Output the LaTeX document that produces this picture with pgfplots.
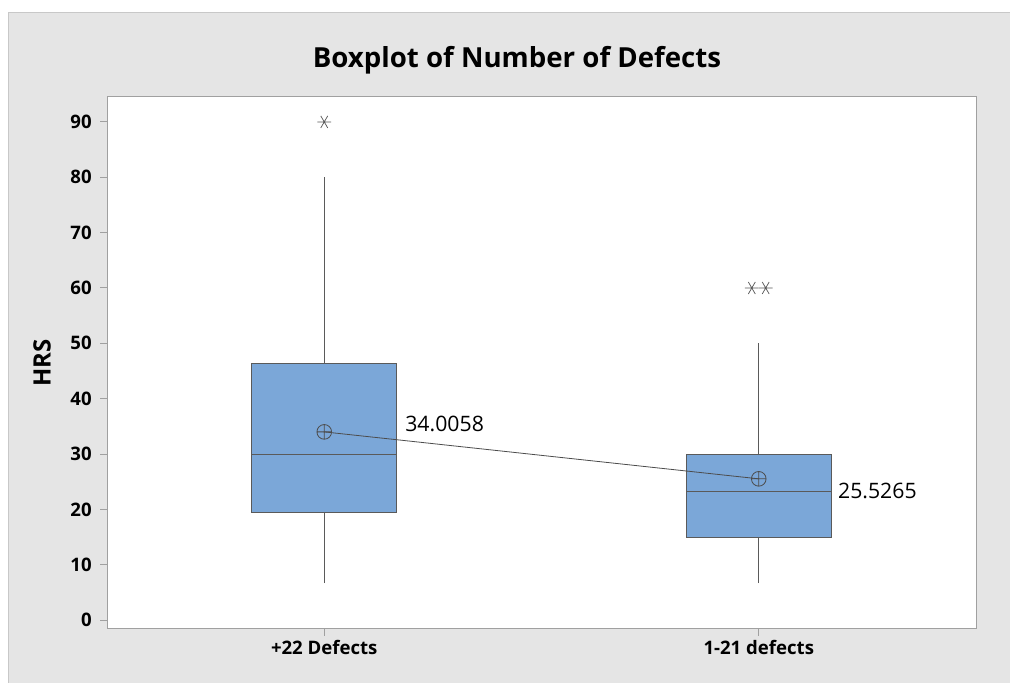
\documentclass[border=0pt]{standalone}
\usepackage{fontspec}
\setmainfont{Open Sans}
\usepackage{pgfplots}
\pgfplotsset{compat=1.18}

\definecolor{panelgray}{RGB}{229,229,229}
\definecolor{panelline}{RGB}{200,200,200}
\definecolor{framegray}{RGB}{160,160,160}
\definecolor{boxblue}{RGB}{123,167,216}
\definecolor{boxedge}{RGB}{90,90,90}

\pgfplotsset{
  boxpart/.style={draw=boxedge, line width=0.75bp, mark=none},
  outlier/.style={only marks, mark=asterisk, mark size=5.2bp,
    mark options={rotate=90, draw=black!65, line width=0.55bp}},
}

\begin{document}
\begin{tikzpicture}
  % page and grey panel (pixel units, 1px = 0.75bp)
  \begin{scope}[x=0.75bp,y=0.75bp]
    \useasboundingbox (0,0) rectangle (1010,683);
    \fill[white] (0,0) rectangle (1010,683);
    \fill[panelgray] (8,0) rectangle (1010,670);
    \draw[panelline, line width=0.75bp] (8,0) -- (8,670) -- (1010,670);
  \end{scope}

  \begin{axis}[
      at={(80.25bp,40.5bp)}, anchor=south west,
      scale only axis,
      width=651.75bp, height=399bp,
      xmin=0.5, xmax=2.5,
      ymin=-1.6, ymax=94.5,
      xtick={1,2},
      xticklabels={+22 Defects, 1-21 defects},
      ytick={0,10,...,90},
      xtick pos=left, ytick pos=left,
      tick align=outside,
      major tick length=5bp,
      axis line style={draw=framegray, line width=0.75bp},
      tick style={draw=framegray, line width=0.75bp},
      axis background/.style={fill=white},
      /pgf/number format/assume math mode=true,
      ticklabel style={font=\bfseries\fontsize{14}{16}\selectfont},
      yticklabel style={xshift=-3bp},
      clip=false,
    ]

    % +22 Defects: whisker 6.7-80, Q1 19.5, median 30.0, Q3 46.3
    \addplot[boxpart] coordinates {(1,6.7) (1,19.5)};
    \addplot[boxpart] coordinates {(1,46.3) (1,80)};
    \addplot[boxpart, fill=boxblue] coordinates
      {(0.8335,19.5) (1.1665,19.5) (1.1665,46.3) (0.8335,46.3)} -- cycle;
    \addplot[boxpart] coordinates {(0.8335,30.0) (1.1665,30.0)};
    \addplot[outlier] coordinates {(1,90)};

    % 1-21 defects: whisker 6.7-50, Q1 15.0, median 23.3, Q3 30.0
    \addplot[boxpart] coordinates {(2,6.7) (2,15.0)};
    \addplot[boxpart] coordinates {(2,30.0) (2,50)};
    \addplot[boxpart, fill=boxblue] coordinates
      {(1.8335,15.0) (2.1665,15.0) (2.1665,30.0) (1.8335,30.0)} -- cycle;
    \addplot[boxpart] coordinates {(1.8335,23.3) (2.1665,23.3)};
    \addplot[outlier] coordinates {(1.984,60) (2.016,60)};

    % means connected
    \addplot[draw=black!70, line width=0.6bp,
      mark=oplus, mark size=5.5bp,
      mark options={fill=none, draw=black!70}]
      coordinates {(1,34.0058) (2,25.5265)};

    \node[anchor=west, inner sep=0pt, font=\fontsize{16}{18}\selectfont]
      at (axis cs:1.186,35.4) {34.0058};
    \node[anchor=west, inner sep=0pt, font=\fontsize{16}{18}\selectfont]
      at (axis cs:2.182,23.3) {25.5265};
  \end{axis}

  \node[font=\bfseries\fontsize{20.8}{24}\selectfont] at (387.75bp,467.25bp) {Boxplot of Number of Defects};
  \node[rotate=90, font=\bfseries\fontsize{18}{20}\selectfont] at (31.5bp,240bp) {HRS};
\end{tikzpicture}
\end{document}
